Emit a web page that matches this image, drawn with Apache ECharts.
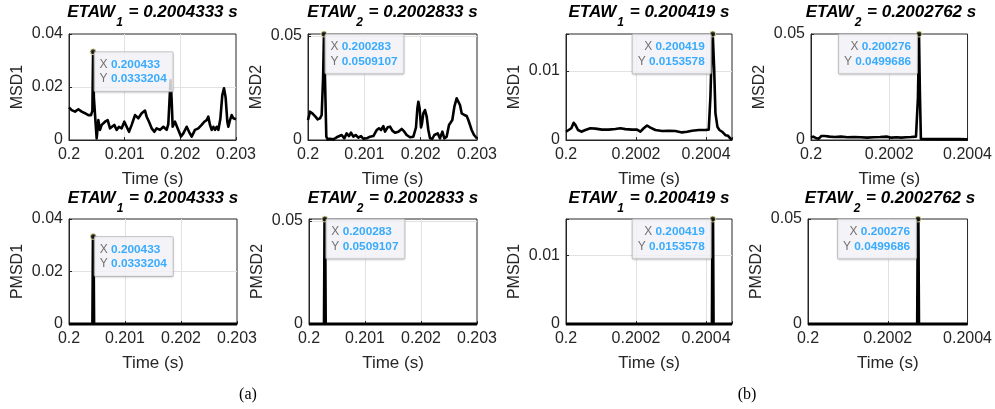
<!DOCTYPE html>
<html><head><meta charset="utf-8">
<script src="https://cdn.jsdelivr.net/npm/echarts@6/dist/echarts.min.js"></script>
<style>html,body{margin:0;padding:0;background:#fff}#c{width:995px;height:409px}</style>
</head><body><div id="c"></div>
<script>
// ---------------- DATA ----------------
const msd1aT = [0.200000,0.200048,0.200108,0.200168,0.200228,0.200287,0.200347,0.200395,0.200420,0.200433,0.200447,0.200479,0.200497,0.200527,0.200557,0.200587,0.200617,0.200647,0.200695,0.200737,0.200766,0.200814,0.200856,0.200898,0.200946,0.200994,0.201036,0.201078,0.201126,0.201186,0.201246,0.201305,0.201365,0.201395,0.201437,0.201485,0.201533,0.201575,0.201635,0.201695,0.201754,0.201784,0.201808,0.201826,0.201844,0.201862,0.201904,0.201964,0.202012,0.202054,0.202114,0.202156,0.202204,0.202263,0.202323,0.202383,0.202431,0.202473,0.202503,0.202533,0.202563,0.202593,0.202623,0.202653,0.202683,0.202719,0.202754,0.202784,0.202814,0.202844,0.202862,0.202892,0.202922,0.202952,0.203000];
const msd1aV = [0.0123,0.0113,0.0107,0.0116,0.0107,0.0101,0.0094,0.0094,0.0110,0.0333204,0.0160,0.0060,0.0006,0.0075,0.0038,0.0057,0.0050,0.0069,0.0075,0.0044,0.0050,0.0057,0.0038,0.0050,0.0044,0.0069,0.0050,0.0031,0.0057,0.0094,0.0082,0.0101,0.0111,0.0088,0.0069,0.0044,0.0031,0.0044,0.0038,0.0050,0.0038,0.0060,0.0160,0.0225,0.0150,0.0050,0.0069,0.0038,0.0013,0.0025,0.0050,0.0031,0.0013,0.0038,0.0044,0.0057,0.0069,0.0075,0.0088,0.0057,0.0038,0.0050,0.0038,0.0050,0.0038,0.0080,0.0170,0.0195,0.0160,0.0070,0.0050,0.0075,0.0094,0.0082,0.0078];

const msd2aT = [0.200000,0.200036,0.200077,0.200124,0.200172,0.200213,0.200243,0.200255,0.200268,0.200283,0.200302,0.200325,0.200349,0.200391,0.200450,0.200509,0.200538,0.200598,0.200645,0.200686,0.200728,0.200763,0.200805,0.200846,0.200893,0.200941,0.200982,0.201041,0.201101,0.201160,0.201219,0.201260,0.201296,0.201337,0.201367,0.201414,0.201456,0.201497,0.201544,0.201604,0.201663,0.201710,0.201751,0.201811,0.201870,0.201917,0.201941,0.201959,0.201982,0.202006,0.202024,0.202047,0.202077,0.202107,0.202136,0.202166,0.202207,0.202243,0.202272,0.202302,0.202343,0.202385,0.202420,0.202461,0.202503,0.202533,0.202562,0.202598,0.202639,0.202669,0.202698,0.202728,0.202775,0.202817,0.202846,0.202876,0.202905,0.202947,0.203000];
const msd2aV = [0.0096,0.0136,0.0128,0.0115,0.0099,0.0104,0.0120,0.0125,0.0300,0.0509107,0.0290,0.0016,0.0003,0.0006,0.0003,0.0013,0.0008,0.0024,0.0008,0.0032,0.0019,0.0035,0.0016,0.0024,0.0011,0.0019,0.0006,0.0008,0.0016,0.0019,0.0048,0.0056,0.0048,0.0067,0.0040,0.0061,0.0064,0.0045,0.0035,0.0040,0.0053,0.0040,0.0024,0.0013,0.0016,0.0060,0.0150,0.0184,0.0150,0.0060,0.0080,0.0128,0.0144,0.0112,0.0048,0.0008,0.0006,0.0024,0.0016,0.0032,0.0008,0.0040,0.0008,0.0016,0.0072,0.0080,0.0096,0.0160,0.0200,0.0200,0.0168,0.0128,0.0120,0.0115,0.0096,0.0072,0.0048,0.0024,0.0008];

const msd1bT = [0.2000000,0.2000076,0.2000152,0.2000219,0.2000267,0.2000343,0.2000438,0.2000552,0.2000695,0.2000838,0.2001029,0.2001219,0.2001410,0.2001552,0.2001695,0.2001886,0.2002029,0.2002124,0.2002219,0.2002314,0.2002410,0.2002552,0.2002743,0.2002933,0.2003124,0.2003314,0.2003457,0.2003600,0.2003790,0.2003981,0.2004076,0.2004124,0.2004162,0.2004190,0.2004229,0.2004267,0.2004324,0.2004381,0.2004457,0.2004552,0.2004629,0.2004695,0.2004740];
const msd1bV = [0.0012,0.00145,0.0017,0.0025,0.0022,0.00145,0.0012,0.00145,0.0017,0.00165,0.0015,0.0015,0.0016,0.0017,0.00158,0.0015,0.0015,0.0012,0.0017,0.0021,0.0018,0.00145,0.0013,0.00135,0.0013,0.0011,0.0012,0.00135,0.00145,0.00145,0.0015,0.0063,0.0130,0.0153578,0.0106,0.0039,0.0019,0.00145,0.0012,0.0007,0.0006,0.0002,0.0001];

const msd2bT = [0.2000000,0.2000058,0.2000142,0.2000200,0.2000267,0.2000350,0.2000475,0.2000600,0.2000767,0.2000933,0.2001100,0.2001267,0.2001433,0.2001600,0.2001767,0.2001933,0.2002058,0.2002183,0.2002308,0.2002433,0.2002558,0.2002683,0.2002733,0.2002760,0.2002783,0.2002808,0.2002892,0.2003183,0.2003517,0.2003767,0.2004000];
const msd2bV = [0.00126,0.00157,0.0008,0.0006,0.0019,0.0019,0.0016,0.0014,0.0016,0.0013,0.0014,0.0013,0.0011,0.0013,0.0014,0.0016,0.0011,0.0013,0.0011,0.0013,0.0014,0.0016,0.0200,0.0499686,0.0220,0.0006,0.0005,0.0004,0.0004,0.0004,0.0003];

const pmsd1aT = [0.2, 0.200423, 0.200433, 0.200443, 0.203];
const pmsd1aV = [0, 0, 0.0333204, 0, 0];
const pmsd2aT = [0.2, 0.200273, 0.200283, 0.200293, 0.203];
const pmsd2aV = [0, 0, 0.0509107, 0, 0];
const pmsd1bT = [0.2, 0.2004175, 0.200419, 0.2004205, 0.200474];
const pmsd1bV = [0, 0, 0.0153578, 0, 0];
const pmsd2bT = [0.2, 0.2002745, 0.200276, 0.2002775, 0.2004];
const pmsd2bV = [0, 0, 0.0499686, 0, 0];

const peakT = [0.200433, 0.200283, 0.200419, 0.200276];
const peakV = [0.0333204, 0.0509107, 0.0153578, 0.0499686];
const etawSub = ['1', '2', '1', '2'];
const etawVal = ['0.2004333', '0.2002833', '0.200419', '0.2002762'];
const topNames = ['MSD1', 'MSD2', 'MSD1', 'MSD2'];
const botNames = ['PMSD1', 'PMSD2', 'PMSD1', 'PMSD2'];
const xMin = 0.2;
const xMax = [0.203, 0.203, 0.200474, 0.2004];
const xStep = [0.001, 0.001, 0.0002, 0.0002];
const yMax = [0.04, 0.0509107, 0.0153578, 0.05];
const yStep = [0.02, 0.05, 0.01, 0.05];
const xName = 'Time (s)';
const panelTags = ['(a)', '(b)'];

// ---------------- LAYOUT ----------------
const FONT = '"Liberation Sans", Arial, Helvetica, sans-serif';
const INK = '#262626';
const boxes = [
  [69, 34, 167, 106], [308, 34, 169, 106], [566, 34, 166, 106], [811, 34, 160, 106],
  [69, 219, 168, 105], [309, 219, 168, 105], [566, 219, 166, 105], [808, 219, 164, 105]
];
const topSeries = [[msd1aT, msd1aV], [msd2aT, msd2aV], [msd1bT, msd1bV], [msd2bT, msd2bV]];
const botSeries = [[pmsd1aT, pmsd1aV], [pmsd2aT, pmsd2aV], [pmsd1bT, pmsd1bV], [pmsd2bT, pmsd2bV]];

function zip(a, b) { return a.map((v, i) => [v, b[i]]); }
function tickFmt(step) {
  return function (v) {
    const r = v / step;
    if (Math.abs(r - Math.round(r)) > 1e-6) return '';
    return String(+v.toPrecision(6));
  };
}

const grid = [], xAxis = [], yAxis = [], series = [], graphic = [];
for (let i = 0; i < 8; i++) {
  const col = i % 4, row = Math.floor(i / 4);
  const b = boxes[i];
  grid.push({ left: b[0], top: b[1], width: b[2], height: b[3], show: true,
    borderColor: INK, borderWidth: 1, backgroundColor: 'rgba(0,0,0,0)' });
  const common = {
    gridIndex: i, type: 'value',
    axisLine: { show: true, onZero: false, lineStyle: { color: INK, width: 1 } },
    axisTick: { show: true, inside: true, length: 3, lineStyle: { color: INK } },
    splitLine: { show: true, showMinLine: false, showMaxLine: false, lineStyle: { color: '#e2e2e2', width: 1 } }
  };
  xAxis.push(Object.assign({}, common, {
    min: xMin, max: xMax[col], interval: xStep[col],
    name: xName, nameLocation: 'middle', nameGap: 31,
    nameTextStyle: { fontFamily: FONT, fontSize: 17, color: INK },
    axisLabel: { fontFamily: FONT, fontSize: 16, color: INK, margin: 7, formatter: tickFmt(xStep[col]) }
  }));
  yAxis.push(Object.assign({}, common, {
    min: 0, max: yMax[col], interval: yStep[col],
    name: row === 0 ? topNames[col] : botNames[col], nameLocation: 'middle', nameGap: 43,
    nameTextStyle: { fontFamily: FONT, fontSize: 16, color: INK },
    axisLabel: { fontFamily: FONT, fontSize: 16, color: INK, margin: 6, formatter: tickFmt(yStep[col]) }
  }));
  const src = row === 0 ? topSeries[col] : botSeries[col];
  series.push({
    type: 'line', xAxisIndex: i, yAxisIndex: i, data: zip(src[0], src[1]),
    showSymbol: false, symbol: 'none', clip: false, animation: false, z: 3,
    lineStyle: { color: '#000', width: row === 0 ? 2.6 : 3.2, join: 'round' }
  });
  const right = col >= 2;
  series.push({
    type: 'scatter', xAxisIndex: i, yAxisIndex: i, data: [[peakT[col], peakV[col]]],
    symbolSize: 6, clip: false, animation: false, z: 5,
    itemStyle: { color: '#1a1a1a', borderColor: '#f3eda0', borderWidth: 1 },
    label: {
      show: true, position: right ? [1.5, 4] : [5, 4], align: right ? 'right' : 'left', verticalAlign: 'top',
      formatter: '{k|X} {v|' + peakT[col] + '}\n{k|Y} {v|' + peakV[col] + '}',
      backgroundColor: '#f8f8fc', borderColor: '#bdbdbd', borderWidth: 1, borderRadius: 1,
      padding: [5, 6, 5, 5], lineHeight: 14.5,
      shadowBlur: 2, shadowColor: 'rgba(0,0,0,0.12)', shadowOffsetY: 1,
      rich: {
        k: { fontFamily: FONT, fontSize: 12, color: '#505050', lineHeight: 14.5 },
        v: { fontFamily: FONT, fontSize: 11.8, fontWeight: 'bold', color: '#0a98ff', lineHeight: 14.5 }
      }
    }
  });
  graphic.push({
    type: 'text', x: b[0] + b[2] / 2, y: row === 0 ? 4 : 190, z: 10,
    style: {
      text: '{b|ETAW}{s|' + etawSub[col] + '}{b| = ' + etawVal[col] + ' s}',
      align: 'center', verticalAlign: 'top',
      rich: {
        b: { fontFamily: FONT, fontSize: 17, fontWeight: 'bold', fontStyle: 'italic', fill: '#000', lineHeight: 20, verticalAlign: 'top' },
        s: { fontFamily: FONT, fontSize: 12, fontWeight: 'bold', fontStyle: 'italic', fill: '#000', lineHeight: 12, verticalAlign: 'top', padding: [13, 1, 0, 1] }
      }
    }
  });
}
graphic.push({ type: 'text', x: 248, y: 395, style: { text: panelTags[0], font: '16px "Liberation Serif", "Times New Roman", serif', fill: '#000', align: 'center', verticalAlign: 'middle' } });
graphic.push({ type: 'text', x: 747, y: 395, style: { text: panelTags[1], font: '16px "Liberation Serif", "Times New Roman", serif', fill: '#000', align: 'center', verticalAlign: 'middle' } });

const chart = echarts.init(document.getElementById('c'), null, { renderer: 'canvas' });
chart.setOption({ animation: false, backgroundColor: '#fff', grid, xAxis, yAxis, series, graphic });
</script>
</body></html>
